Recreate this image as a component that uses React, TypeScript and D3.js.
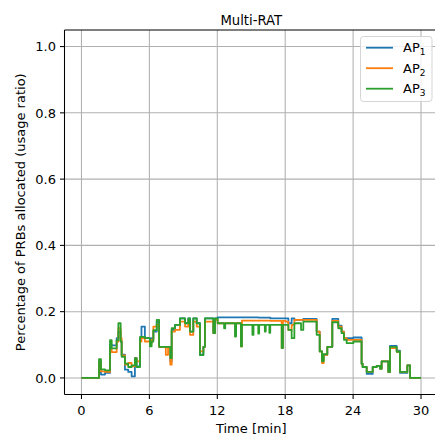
import React from "react";
import * as d3 from "d3";

// step start times [min]
const times = [
  0, 1.55, 1.72, 2.08, 2.52, 2.67, 3.11, 3.26, 3.46, 3.55,
  3.84, 4.13, 4.43, 4.72, 4.87, 5.17, 5.3, 5.6, 6.05, 6.2,
  6.35, 6.65, 6.86, 7.45, 7.65, 7.85, 7.97, 8.26, 8.7, 9.15,
  9.44, 9.59, 9.88, 10.18, 10.47, 10.77, 10.91, 11.65, 11.8, 12.03,
  12.6, 12.7, 13.56, 13.66, 14.09, 14.18, 15.1, 15.2, 15.62, 15.7,
  16.2, 16.28, 16.6, 16.68, 17.69, 17.8, 18.04, 18.28, 18.57, 18.81,
  19.4, 19.6, 20.78, 21.05, 21.25, 21.4, 21.72, 22.16, 22.69, 22.98,
  23.19, 23.43, 24.02, 24.75, 24.84, 25.2, 25.73, 26.08, 26.38, 26.52,
  27.11, 27.26, 27.85, 28.14, 28.79, 29.03, 30,
];

const ap1 = [
  0, 0.05, 0.01, 0.015, 0.1, 0.098, 0.12, 0.14, 0.11, 0.07,
  0.025, 0.018, 0.005, 0.06, 0.035, 0.12, 0.155, 0.12, 0.11, 0.12,
  0.14, 0.17, 0.094, 0.094, 0.094, 0.05, 0.145, 0.16, 0.18, 0.165,
  0.18, 0.14, 0.18, 0.165, 0.07, 0.094, 0.18, 0.14, 0.18, 0.183,
  0.183, 0.183, 0.183, 0.183, 0.183, 0.183, 0.183, 0.183, 0.182, 0.182,
  0.182, 0.182, 0.182, 0.18, 0.18, 0.18, 0.18, 0.165, 0.18, 0.175,
  0.175, 0.178, 0.14, 0.08, 0.055, 0.07, 0.094, 0.178, 0.158, 0.14,
  0.12, 0.12, 0.122, 0.043, 0.033, 0.012, 0.033, 0.036, 0.028, 0.05,
  0.018, 0.097, 0.082, 0.015, 0.038, 0, 0,
];

const ap2 = [
  0, 0.048, 0.02, 0.018, 0.085, 0.078, 0.11, 0.15, 0.12, 0.068,
  0.04, 0.045, 0.035, 0.06, 0.05, 0.11, 0.12, 0.11, 0.105, 0.115,
  0.155, 0.16, 0.094, 0.07, 0.094, 0.04, 0.14, 0.145, 0.17, 0.155,
  0.17, 0.13, 0.17, 0.155, 0.08, 0.094, 0.17, 0.135, 0.175, 0.165,
  0.165, 0.165, 0.165, 0.165, 0.095, 0.173, 0.173, 0.173, 0.173, 0.173,
  0.173, 0.173, 0.173, 0.172, 0.09, 0.172, 0.17, 0.145, 0.16, 0.175,
  0.175, 0.175, 0.14, 0.08, 0.045, 0.07, 0.094, 0.172, 0.155, 0.14,
  0.12, 0.115, 0.115, 0.043, 0.033, 0.018, 0.033, 0.036, 0.028, 0.05,
  0.018, 0.09, 0.079, 0.018, 0.038, 0, 0,
];

const ap3 = [
  0, 0.057, 0.026, 0.023, 0.114, 0.089, 0.114, 0.165, 0.11, 0.064,
  0.043, 0.033, 0.038, 0.06, 0.033, 0.124, 0.124, 0.12, 0.095, 0.11,
  0.144, 0.175, 0.094, 0.094, 0.094, 0.06, 0.15, 0.16, 0.18, 0.165,
  0.18, 0.14, 0.18, 0.165, 0.069, 0.094, 0.18, 0.135, 0.18, 0.165,
  0.15, 0.165, 0.125, 0.165, 0.095, 0.16, 0.13, 0.16, 0.134, 0.16,
  0.14, 0.16, 0.136, 0.16, 0.09, 0.16, 0.16, 0.145, 0.12, 0.165,
  0.145, 0.17, 0.13, 0.08, 0.05, 0.072, 0.094, 0.168, 0.15, 0.135,
  0.115, 0.105, 0.11, 0.043, 0.033, 0.018, 0.033, 0.036, 0.028, 0.05,
  0.018, 0.094, 0.079, 0.018, 0.038, 0, 0,
];

const seriesNames = ["1", "2", "3"];
const seriesColors = ["#1f77b4", "#ff7f0e", "#2ca02c"];
const xTicks = [0, 6, 12, 18, 24, 30];
const yTicks = [0, 0.2, 0.4, 0.6, 0.8, 1.0];

const W = 435;
const H = 439;
const L = 64.5, R = 438, T = 30, B = 394.5;

export default function App() {
  const x = d3.scaleLinear().domain([-1.5, 31.5]).range([L, R]);
  const y = d3.scaleLinear().domain([-0.05, 1.05]).range([B, T]);
  const line = d3
    .line<number>()
    .x((_, i) => x(times[i]))
    .y((d) => y(d))
    .curve(d3.curveStepAfter);
  const all = [ap1, ap2, ap3];
  const font = "DejaVu Sans, sans-serif";
  const legendY = [47.7, 68.2, 88.7];

  return (
    <svg
      width={W}
      height={H}
      style={{ position: "absolute", left: 0, top: 0, background: "#fff" }}
      fontFamily={font}
    >
      <defs>
        <clipPath id="plot">
          <rect x={L} y={T} width={R - L} height={B - T} />
        </clipPath>
      </defs>
      <rect x={0} y={0} width={W} height={H} fill="#fff" />
      {/* grid */}
      <g stroke="#b0b0b0" strokeWidth={1.05}>
        {xTicks.map((t) => (
          <line key={"gx" + t} x1={x(t)} x2={x(t)} y1={T} y2={B} />
        ))}
        {yTicks.map((t) => (
          <line key={"gy" + t} x1={L} x2={R} y1={y(t)} y2={y(t)} />
        ))}
      </g>
      {/* series */}
      <g clipPath="url(#plot)" fill="none" strokeWidth={1.8} strokeLinejoin="round">
        {all.map((s, i) => (
          <path key={i} d={line(s) || ""} stroke={seriesColors[i]} />
        ))}
      </g>
      {/* spines */}
      <g stroke="#000" strokeWidth={1.05} fill="none">
        <line x1={L} x2={L} y1={T} y2={B} />
        <line x1={L} x2={R} y1={B} y2={B} />
        <line x1={L} x2={R} y1={T} y2={T} />
        <line x1={R} x2={R} y1={T} y2={B} />
      </g>
      {/* ticks */}
      <g stroke="#000" strokeWidth={1.05}>
        {xTicks.map((t) => (
          <line key={"tx" + t} x1={x(t)} x2={x(t)} y1={B} y2={B + 4.5} />
        ))}
        {yTicks.map((t) => (
          <line key={"ty" + t} x1={L - 4.5} x2={L} y1={y(t)} y2={y(t)} />
        ))}
      </g>
      <g fontSize={13} fill="#000">
        {xTicks.map((t) => (
          <text key={"lx" + t} x={x(t)} y={415} textAnchor="middle">
            {t}
          </text>
        ))}
        {yTicks.map((t) => (
          <text key={"ly" + t} x={56} y={y(t) + 4.7} textAnchor="end">
            {t.toFixed(1)}
          </text>
        ))}
        <text x={(L + R) / 2} y={433} textAnchor="middle">
          Time [min]
        </text>
        <text
          transform={`translate(24.5, ${(T + B) / 2}) rotate(-90)`}
          textAnchor="middle"
        >
          Percentage of PRBs allocated (usage ratio)
        </text>
        <text x={(L + R) / 2} y={25} textAnchor="middle" fontSize={13.2}>
          Multi-RAT
        </text>
      </g>
      {/* legend */}
      <g>
        <rect
          x={360.5}
          y={36.5}
          width={71.5}
          height={65}
          rx={3}
          fill="#fff"
          fillOpacity={0.8}
          stroke="#d5d5d5"
          strokeWidth={1}
        />
        {seriesNames.map((n, i) => (
          <g key={n}>
            <line
              x1={366}
              x2={393}
              y1={legendY[i]}
              y2={legendY[i]}
              stroke={seriesColors[i]}
              strokeWidth={1.8}
            />
            <text x={403} y={legendY[i] + 4.7} fontSize={13} fill="#000">
              AP
              <tspan fontSize={9} dy={3}>
                {n}
              </tspan>
            </text>
          </g>
        ))}
      </g>
    </svg>
  );
}
